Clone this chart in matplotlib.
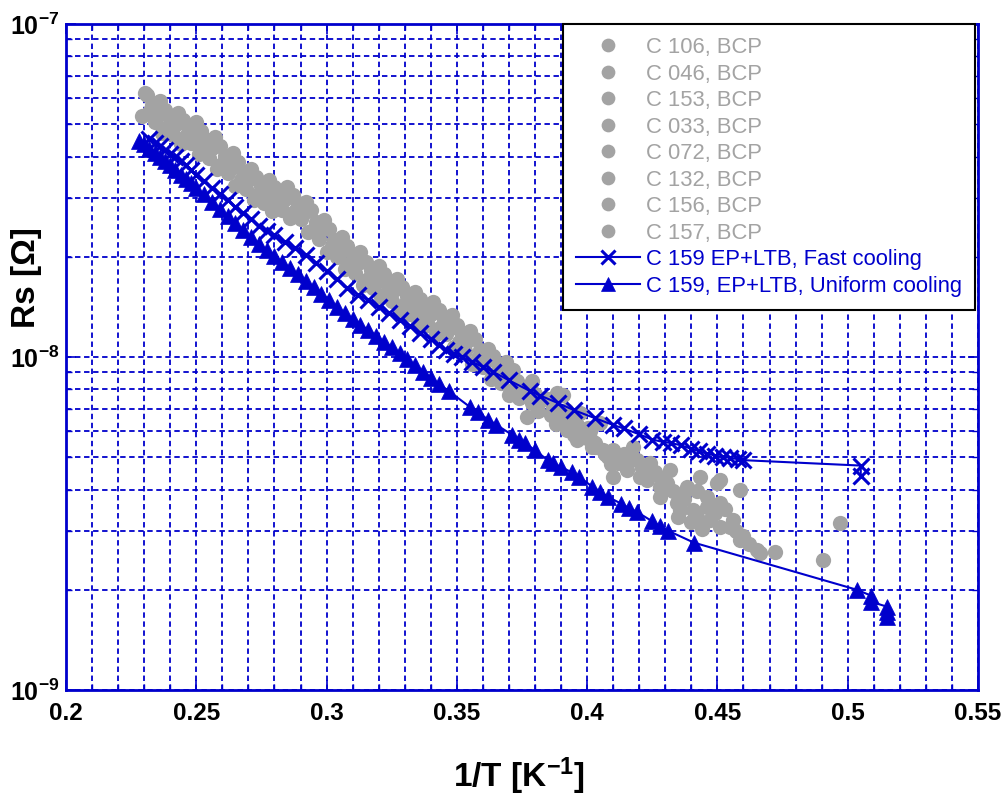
import matplotlib
matplotlib.use("Agg")
import matplotlib.pyplot as plt
from matplotlib.ticker import FixedLocator, FixedFormatter, LogLocator, NullFormatter, MultipleLocator

plt.rcParams['font.family'] = ['Liberation Sans', 'DejaVu Sans']
plt.rcParams['mathtext.fontset'] = 'custom'
plt.rcParams['mathtext.rm'] = 'Liberation Sans:bold'
plt.rcParams['mathtext.it'] = 'Liberation Sans:bold'
plt.rcParams['mathtext.bf'] = 'Liberation Sans:bold'
plt.rcParams['mathtext.default'] = 'rm'

# ---- data: surface resistance in nano-ohm vs inverse temperature ----
c106_x = [0.231, 0.238, 0.245, 0.252, 0.259, 0.266, 0.273, 0.280, 0.287, 0.294, 0.301, 0.308,
          0.315, 0.322, 0.329, 0.336, 0.343, 0.350, 0.357, 0.364, 0.371, 0.378, 0.385, 0.392]
c106_rs = [61.2, 55.1, 51.6, 47.7, 42.9, 38.4, 34.7, 32.4, 30.7, 27.6, 24.2, 21.5,
           19.3, 17.7, 16.2, 14.9, 13.8, 12.5, 11.3, 10.1, 9.04, 8.21, 7.50, 6.91]

c046_x = [0.233, 0.240, 0.247, 0.254, 0.261, 0.268, 0.275, 0.282, 0.289, 0.296, 0.303, 0.310, 0.317,
          0.324, 0.331, 0.338, 0.345, 0.352, 0.359, 0.366, 0.373, 0.380, 0.387, 0.394, 0.401]
c046_rs = [57.2, 51.9, 48.9, 44.7, 40.2, 35.9, 32.6, 30.8, 29.1, 25.5, 22.4, 20.2, 18.2,
           16.6, 15.2, 14.1, 13.0, 11.7, 10.5, 9.42, 8.49, 7.72, 7.07, 6.53, 6.00]

c153_x = [0.235, 0.242, 0.249, 0.256, 0.263, 0.270, 0.277, 0.284, 0.291, 0.298, 0.305, 0.312, 0.319, 0.326,
          0.333, 0.340, 0.347, 0.354, 0.361, 0.368, 0.375, 0.382, 0.389, 0.396, 0.403, 0.410, 0.419, 0.426]
c153_rs = [53.0, 49.8, 45.6, 42.3, 37.0, 34.1, 30.6, 29.8, 26.9, 24.2, 20.7, 19.2, 16.8, 15.9,
           14.1, 13.5, 12.1, 11.2, 9.70, 8.95, 7.85, 7.38, 6.55, 6.25, 5.50, 5.05, 4.90, 4.50]

c033_x = [0.232, 0.239, 0.246, 0.253, 0.260, 0.267, 0.274, 0.281, 0.288, 0.295, 0.302, 0.309, 0.316, 0.323,
          0.330, 0.337, 0.344, 0.351, 0.358, 0.365, 0.372, 0.379, 0.386, 0.393, 0.400, 0.407, 0.414, 0.437]
c033_rs = [54.3, 49.1, 46.1, 42.4, 38.1, 34.1, 30.8, 29.0, 27.4, 24.2, 21.6, 19.1, 17.2, 15.7,
           14.4, 13.2, 12.3, 11.1, 9.95, 8.94, 8.04, 7.30, 6.68, 6.16, 5.70, 5.10, 5.10, 3.90]

c072_x = [0.234, 0.241, 0.248, 0.255, 0.262, 0.269, 0.276, 0.283, 0.290, 0.297, 0.304, 0.311, 0.318, 0.325, 0.332,
          0.339, 0.346, 0.353, 0.360, 0.367, 0.374, 0.381, 0.388, 0.395, 0.402, 0.409, 0.428, 0.442, 0.446]
c072_rs = [50.8, 46.4, 43.8, 39.7, 35.6, 31.9, 29.1, 27.6, 25.9, 22.6, 19.9, 17.9, 16.1, 14.7, 13.5,
           12.5, 11.7, 10.4, 9.31, 8.36, 7.55, 6.88, 6.30, 5.82, 5.36, 4.76, 3.80, 3.30, 3.80]

c132_x = [0.2305, 0.236, 0.243, 0.250, 0.257, 0.264, 0.271, 0.278, 0.285, 0.292, 0.299,
          0.306, 0.313, 0.320, 0.327, 0.334, 0.341, 0.348, 0.355, 0.362, 0.369, 0.3715, 0.3790, 0.3884]
c132_rs = [62.0, 58.6, 54.1, 50.9, 45.7, 41.0, 36.8, 34.0, 32.4, 29.3, 25.8,
           23.0, 20.6, 18.7, 17.1, 15.7, 14.6, 13.4, 12.0, 10.6, 9.64, 9.14, 8.50, 7.80]

c156_x = [0.229, 0.237, 0.244, 0.251, 0.258, 0.265, 0.272, 0.279, 0.286, 0.293, 0.300, 0.307, 0.314, 0.321,
          0.328, 0.335, 0.342, 0.349, 0.356, 0.363, 0.370, 0.377, 0.3923, 0.3961, 0.3984, 0.4061, 0.4099,
          0.4153, 0.4203, 0.4230, 0.4280, 0.4307, 0.4345, 0.4356, 0.4383, 0.4406, 0.4472, 0.4510, 0.4510,
          0.4548, 0.4560, 0.4587, 0.4652, 0.4663, 0.4721, 0.4905]
c156_rs = [53.1, 47.0, 43.7, 40.8, 36.6, 32.7, 29.6, 27.5, 26.2, 23.7, 20.7, 18.4, 16.5, 15.1,
           13.8, 12.6, 11.7, 10.7, 9.56, 8.57, 7.71, 6.60, 6.03, 5.63, 5.75, 5.26, 4.36,
           4.58, 4.36, 4.27, 4.07, 4.18, 3.64, 3.47, 4.07, 3.47, 3.24, 3.64, 3.09,
           3.09, 3.24, 2.82, 2.63, 2.58, 2.60, 2.46]

c157_x = [0.3907, 0.3973, 0.4005, 0.4020, 0.4030, 0.4049, 0.4080, 0.4100, 0.4118, 0.4150, 0.4176,
          0.4210, 0.4241, 0.4260, 0.4290, 0.4318, 0.4330, 0.4350, 0.4370, 0.4400, 0.4420, 0.4433,
          0.4440, 0.4460, 0.4490, 0.4498, 0.4510, 0.4530, 0.4570, 0.4587, 0.4600, 0.4620, 0.4970]
c157_rs = [7.69, 6.79, 6.10, 5.60, 5.35, 6.34, 5.00, 5.25, 4.81, 4.95, 5.37,
           4.65, 4.81, 4.45, 4.30, 4.58, 3.95, 3.30, 3.75, 3.20, 3.95, 4.36,
           3.05, 3.55, 3.40, 4.18, 4.27, 3.50, 3.00, 3.99, 2.90, 2.75, 3.17]

fast_x = [0.232, 0.234, 0.236, 0.238, 0.240, 0.242, 0.244, 0.246, 0.248, 0.250, 0.253, 0.256, 0.259,
          0.262, 0.265, 0.268, 0.271, 0.274, 0.277, 0.280, 0.284, 0.288, 0.292, 0.296, 0.300, 0.304,
          0.308, 0.312, 0.316, 0.320, 0.324, 0.328, 0.332, 0.336, 0.340, 0.343, 0.346, 0.349, 0.352,
          0.356, 0.360, 0.364, 0.370, 0.378, 0.382, 0.389, 0.395, 0.403, 0.410, 0.414, 0.420, 0.425,
          0.429, 0.432, 0.436, 0.440, 0.443, 0.446, 0.449, 0.452, 0.455, 0.458, 0.460, 0.505, 0.505]
fast_rs = [45.0, 44.0, 42.9, 41.9, 40.8, 39.9, 38.9, 37.7, 36.5, 35.3, 33.7, 32.2, 30.8,
           29.6, 28.3, 27.1, 25.9, 24.8, 23.9, 23.2, 22.1, 21.2, 20.2, 19.2, 18.1, 17.1,
           16.1, 15.4, 14.8, 14.1, 13.6, 12.9, 12.4, 11.8, 11.3, 10.9, 10.5, 10.2, 10.0,
           9.66, 9.33, 9.02, 8.51, 7.91, 7.66, 7.26, 6.92, 6.55, 6.25, 6.10, 5.86, 5.65,
           5.56, 5.52, 5.43, 5.30, 5.21, 5.13, 5.06, 5.01, 4.98, 4.93, 4.90, 4.72, 4.38]

uniform_x = [0.228, 0.230, 0.232, 0.234, 0.236, 0.238, 0.240, 0.242, 0.244, 0.246, 0.248, 0.250, 0.253,
             0.256, 0.259, 0.262, 0.265, 0.268, 0.271, 0.274, 0.277, 0.280, 0.283, 0.286, 0.289, 0.292,
             0.295, 0.298, 0.301, 0.304, 0.307, 0.310, 0.313, 0.316, 0.319, 0.322, 0.325, 0.328, 0.331,
             0.334, 0.337, 0.340, 0.343, 0.347, 0.355, 0.358, 0.362, 0.365, 0.371, 0.374, 0.376, 0.380,
             0.385, 0.387, 0.390, 0.394, 0.397, 0.402, 0.405, 0.408, 0.413, 0.416, 0.419, 0.425, 0.428,
             0.431, 0.441, 0.5035, 0.509, 0.509, 0.515, 0.515, 0.515]
uniform_rs = [44.5, 43.5, 42.2, 41.0, 39.9, 38.7, 37.6, 36.5, 35.3, 34.2, 33.2, 32.2, 30.8,
              29.3, 27.9, 26.5, 25.2, 24.0, 22.9, 21.9, 21.0, 20.1, 19.3, 18.5, 17.7, 16.9,
              16.2, 15.5, 14.8, 14.1, 13.6, 13.0, 12.5, 12.05, 11.6, 11.1, 10.7, 10.3, 9.84,
              9.44, 9.04, 8.67, 8.32, 7.89, 7.08, 6.82, 6.49, 6.27, 5.85, 5.65, 5.52, 5.25,
              4.89, 4.79, 4.67, 4.51, 4.36, 4.08, 3.94, 3.80, 3.63, 3.52, 3.43, 3.21, 3.10,
              3.01, 2.77, 2.00, 1.92, 1.84, 1.78, 1.72, 1.66]

bcp_labels = ["C 106, BCP", "C 046, BCP", "C 153, BCP", "C 033, BCP",
              "C 072, BCP", "C 132, BCP", "C 156, BCP", "C 157, BCP"]
fast_label = "C 159 EP+LTB, Fast cooling"
uniform_label = "C 159, EP+LTB, Uniform cooling"

x_tick_values = [0.2, 0.25, 0.3, 0.35, 0.4, 0.45, 0.5, 0.55]
x_tick_labels = ["0.2", "0.25", "0.3", "0.35", "0.4", "0.45", "0.5", "0.55"]
y_tick_values = [1e-9, 1e-8, 1e-7]
y_tick_labels = [r"$10^{-9}$", r"$10^{-8}$", r"$10^{-7}$"]

NANO = 1e-9
GRAY = "#a3a3a3"
BLUE = "#0000cc"

fig = plt.figure(figsize=(10.03, 8.11), dpi=100)
ax = fig.add_axes([66 / 1003, (811 - 690) / 811, 912 / 1003, 666 / 811])

bcp_sets = [(c106_x, c106_rs), (c046_x, c046_rs), (c153_x, c153_rs), (c033_x, c033_rs),
            (c072_x, c072_rs), (c132_x, c132_rs), (c156_x, c156_rs), (c157_x, c157_rs)]

handles = []
for (xs, rs), lab in zip(bcp_sets, bcp_labels):
    h, = ax.plot(xs, [r * NANO for r in rs], linestyle="none", marker="o", ms=11,
                 color=GRAY, mec=GRAY, mew=0, label=lab, zorder=3)
    handles.append(h)

h_fast, = ax.plot(fast_x, [r * NANO for r in fast_rs], color=BLUE, lw=1.5, marker="x",
                  ms=11, mew=2.2, label=fast_label, zorder=4)
h_uni, = ax.plot(uniform_x, [r * NANO for r in uniform_rs], color=BLUE, lw=1.5, marker="^",
                 ms=11, mew=0.5, mfc=BLUE, mec=BLUE, label=uniform_label, zorder=4)
handles += [h_fast, h_uni]

ax.set_yscale("log")
ax.set_xlim(0.2, 0.55)
ax.set_ylim(1e-9, 1e-7)

ax.xaxis.set_major_locator(FixedLocator(x_tick_values))
ax.xaxis.set_major_formatter(FixedFormatter(x_tick_labels))
ax.xaxis.set_minor_locator(MultipleLocator(0.01))
ax.yaxis.set_major_locator(FixedLocator(y_tick_values))
ax.yaxis.set_major_formatter(FixedFormatter(y_tick_labels))
ax.yaxis.set_minor_locator(LogLocator(base=10, subs=range(2, 10)))
ax.yaxis.set_minor_formatter(NullFormatter())

ax.grid(True, which="both", color=BLUE, linestyle=(0, (3, 2)), linewidth=1.3, zorder=1)
ax.set_axisbelow(True)

for sp in ax.spines.values():
    sp.set_color(BLUE)
    sp.set_linewidth(2)

ax.tick_params(which="both", direction="in", colors=BLUE, top=True, right=True,
               labelcolor="black")
ax.tick_params(which="major", length=7, width=1.2)
ax.tick_params(which="minor", length=4, width=1.0)
ax.tick_params(axis="x", which="major", pad=9, labelsize=17.5)
ax.tick_params(axis="y", which="major", pad=5, labelsize=18)
for t in ax.get_xticklabels():
    t.set_fontweight("bold")

ax.set_xlabel(r"1/T [K$^{-1}$]", fontsize=24, fontweight="bold")
ax.xaxis.set_label_coords(0.496, -0.098)
ax.set_ylabel("Rs [\u03a9]", fontsize=24, fontweight="bold")
ax.yaxis.set_label_coords(-0.026, 0.62)

leg = ax.legend(handles=handles, loc="upper right", bbox_to_anchor=(0.997, 1.0),
                fontsize=15.8, frameon=True, fancybox=False, framealpha=1,
                edgecolor="black", borderpad=0.6, labelspacing=0.25,
                handlelength=2.9, handletextpad=0.3, markerscale=0.9, borderaxespad=0.0)
leg.get_frame().set_linewidth(1.5)
leg.set_zorder(10)
for t, h in zip(leg.get_texts(), handles):
    t.set_color(h.get_color())

fig.savefig("out.png", dpi=100)
